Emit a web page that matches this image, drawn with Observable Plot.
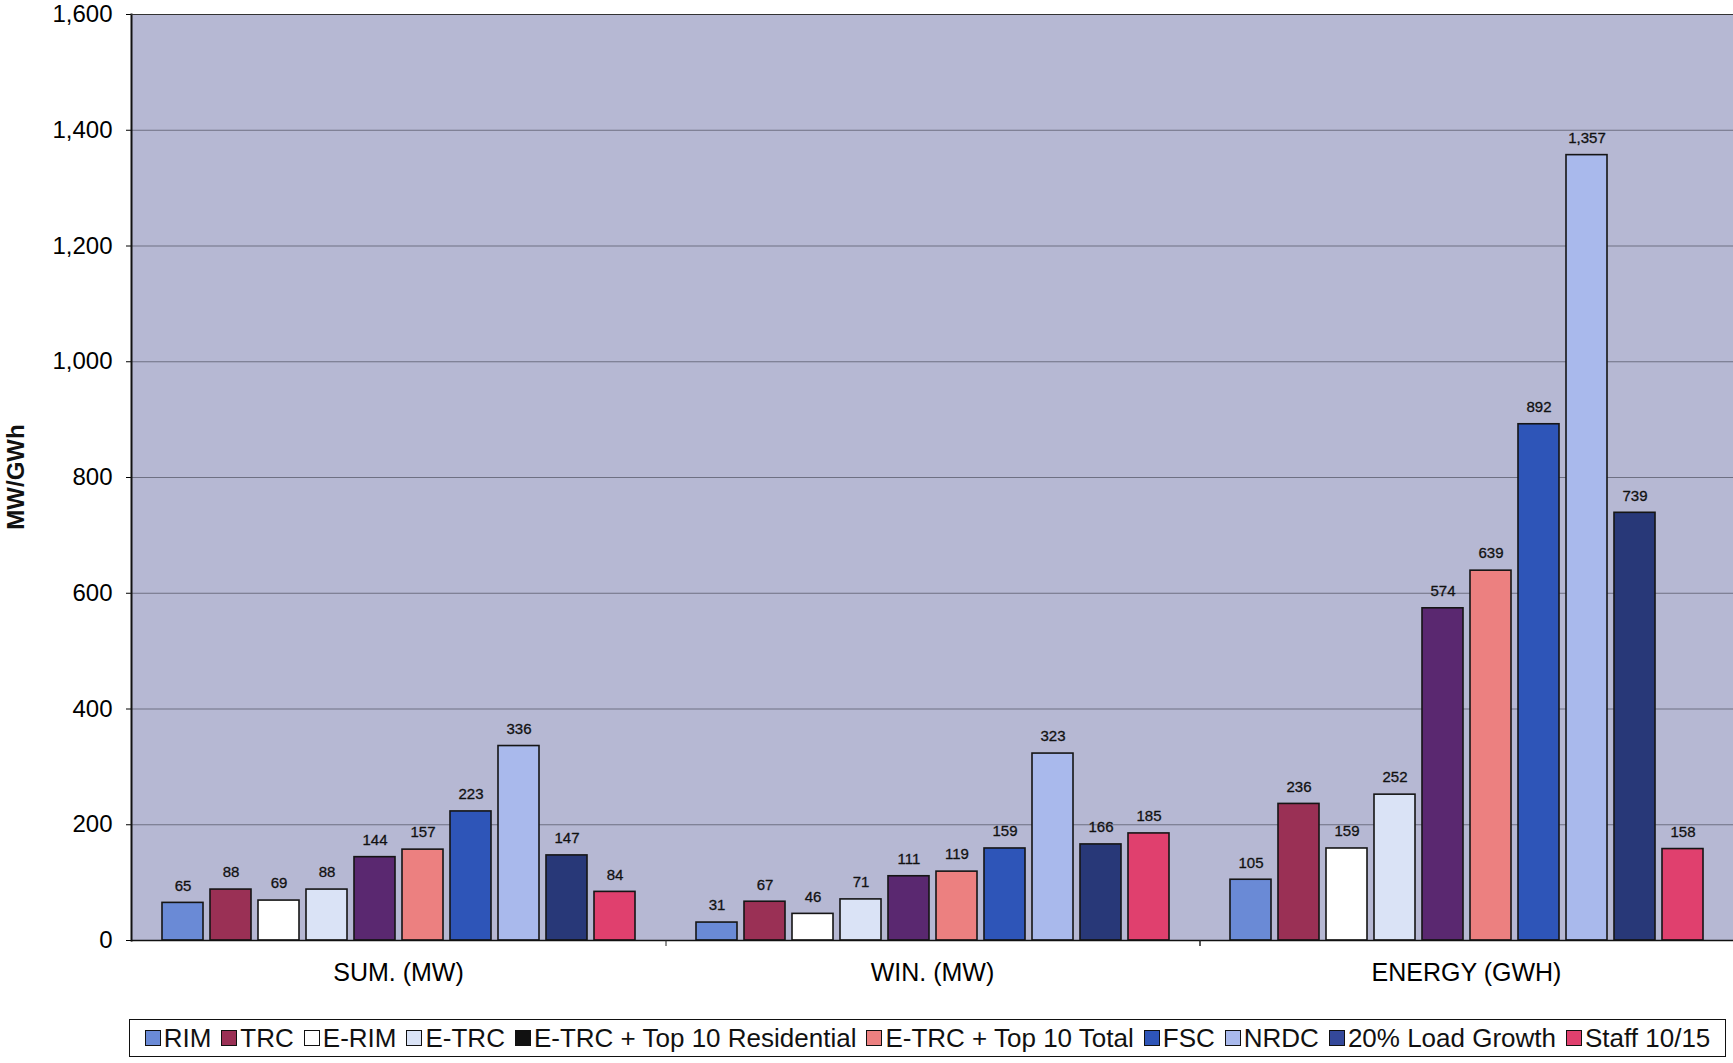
<!DOCTYPE html>
<html>
<head>
<meta charset="utf-8">
<script src="https://cdn.jsdelivr.net/npm/d3@7"></script>
<script src="https://cdn.jsdelivr.net/npm/@observablehq/plot@0.6"></script>
<style>
  body { margin: 0; background: #fff; font-family: "Liberation Sans", Arial, sans-serif; }
  #legend {
    margin: 14px 0 0 129px; width: 1595px; height: 36px; border: 1.5px solid #111;
    display: flex; align-items: center; justify-content: center; gap: 0;
    font-family: "Liberation Sans", Arial, sans-serif; font-size: 26px; color: #111; white-space: nowrap;
  }
  .item { display: flex; align-items: center; margin: 0 5px; }
  .sw { width: 16px; height: 16px; border: 1.5px solid #111; margin-right: 3px; box-sizing: border-box; }
</style>
</head>
<body>
<div id="chart"></div>
<div id="legend"></div>
<script>
const categories = ["SUM. (MW)", "WIN. (MW)", "ENERGY (GWH)"];
const series = ["RIM", "TRC", "E-RIM", "E-TRC", "E-TRC + Top 10 Residential", "E-TRC + Top 10 Total", "FSC", "NRDC", "20% Load Growth", "Staff 10/15"];
const sumValues    = [65, 88, 69, 88, 144, 157, 223, 336, 147, 84];
const winValues    = [31, 67, 46, 71, 111, 119, 159, 323, 166, 185];
const energyValues = [105, 236, 159, 252, 574, 639, 892, 1357, 739, 158];
const colors = ["#6a8ad6", "#9a3055", "#ffffff", "#dae3f6", "#5a2870", "#ec8080", "#2e55b8", "#a9b9ec", "#283878", "#e0406e"];
const legendColors = ["#6a8ad6", "#9a3055", "#ffffff", "#dae3f6", "#111111", "#ec8080", "#2e55b8", "#a9b9ec", "#34489a", "#e0406e"];
const yTicks = [0, 200, 400, 600, 800, 1000, 1200, 1400, 1600];

const allValues = [sumValues, winValues, energyValues];
const data = [];
categories.forEach((c, ci) => series.forEach((s, si) => data.push({category: c, series: s, value: allValues[ci][si]})));

const fmt = d3.format(",");

const boundaryTicks = (index, scales, values, dimensions) => {
  const g = d3.create("svg:g");
  const fx = scales.fx;
  const y0 = dimensions.height - dimensions.marginBottom;
  const xs = categories.slice(1).map(c => fx(c));
  xs.forEach(x => g.append("line").attr("x1", x).attr("x2", x).attr("y1", y0).attr("y2", y0 + 6).attr("stroke", "#222").attr("stroke-width", 1));
  return g.node();
};

const chart = Plot.plot({
  width: 1733,
  height: 1005,
  marginLeft: 130,
  marginRight: 0,
  marginTop: 14,
  marginBottom: 65,
  style: {fontFamily: "Liberation Sans, Arial, sans-serif", background: "#fff"},
  fx: {domain: categories, padding: 0, label: null},
  x: {domain: series, paddingInner: 0.155, paddingOuter: 0.57, axis: null},
  y: {domain: [0, 1600], ticks: yTicks, label: null},
  color: {domain: series, range: colors},
  marks: [
    Plot.frame({fill: "#b6b8d3", insetLeft: -1, insetRight: -1, shapeRendering: "crispEdges"}),
    Plot.gridY(yTicks, {stroke: "#66687a", strokeOpacity: 0.9, strokeWidth: 1}),
    Plot.barY(data, {fx: "category", x: "series", y: "value", fill: "series", stroke: "#151515", strokeWidth: 1.6}),
    Plot.text(data, {fx: "category", x: "series", y: "value", text: d => fmt(d.value), dy: -17, fontSize: 15, fill: "#111", stroke: "#111", strokeWidth: 0.3}),
    Plot.ruleY([0], {stroke: "#111", strokeWidth: 1.5}),
    Plot.axisY({ticks: yTicks, tickFormat: fmt, fontSize: 24, tickSize: 5, tickPadding: 14, label: null, facetAnchor: "left", anchor: "left"}),
    Plot.axisFx({anchor: "bottom", tickSize: 0, tickPadding: 23, fontSize: 25, label: null}),
    Plot.frame({anchor: "left", stroke: "#111", strokeWidth: 2, facetAnchor: "left"}),
    Plot.frame({anchor: "top", stroke: "#333", strokeWidth: 1.2}),
    boundaryTicks
  ]
});

const svg = d3.select(chart);
svg.append("text")
  .attr("transform", "translate(24,477) rotate(-90)")
  .attr("text-anchor", "middle")
  .attr("font-size", 24)
  .attr("font-weight", "bold")
  .attr("fill", "#111")
  .text("MW/GWh");

document.getElementById("chart").appendChild(chart);

const legend = document.getElementById("legend");
series.forEach((s, i) => {
  const it = document.createElement("div");
  it.className = "item";
  const sw = document.createElement("div");
  sw.className = "sw";
  sw.style.background = legendColors[i];
  it.appendChild(sw);
  const t = document.createElement("span");
  t.textContent = s;
  it.appendChild(t);
  legend.appendChild(it);
});
</script>
</body>
</html>
